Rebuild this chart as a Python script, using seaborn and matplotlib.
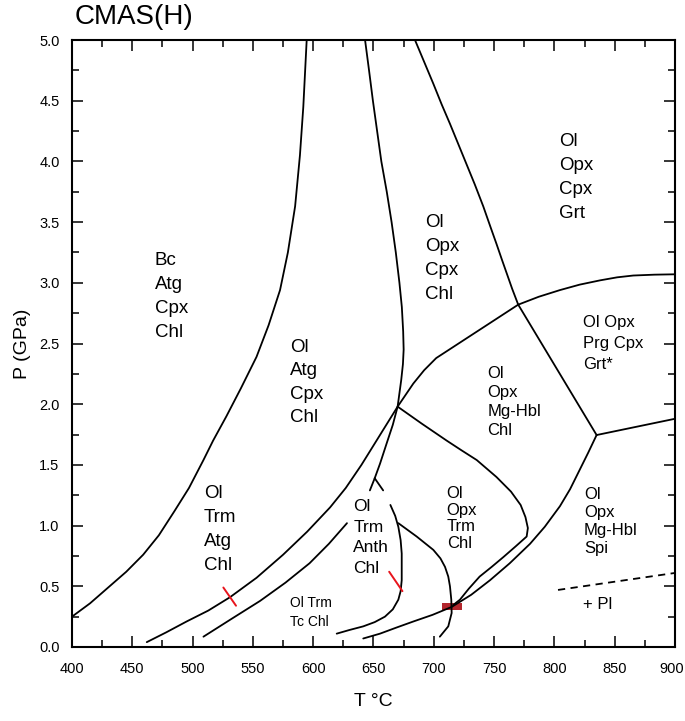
import matplotlib
matplotlib.use("Agg")
import matplotlib.pyplot as plt
import seaborn as sns
import pandas as pd
from matplotlib.ticker import MultipleLocator
from matplotlib.transforms import ScaledTranslation

# ---------------- data (T in deg C, P in GPa) ----------------
A_T = [400, 415, 430, 445, 459, 472, 485, 497, 509, 517, 528, 540, 553, 563,
       572.5, 579, 585, 589, 591.8, 594.6]
A_P = [0.25, 0.36, 0.49, 0.62, 0.76, 0.92, 1.12, 1.31, 1.54, 1.70, 1.90, 2.13,
       2.39, 2.65, 2.94, 3.25, 3.63, 4.05, 4.45, 5.0]

B_T = [462, 478, 495, 513, 531, 553, 575, 595, 614, 627, 640, 655, 670, 683,
       692, 702, 719, 736, 753, 770]
B_P = [0.04, 0.12, 0.21, 0.30, 0.41, 0.57, 0.76, 0.95, 1.15, 1.31, 1.50, 1.74,
       1.98, 2.17, 2.28, 2.38, 2.49, 2.60, 2.71, 2.82]

E_T = [509, 532, 556, 577, 597, 613, 628]
E_P = [0.085, 0.23, 0.38, 0.53, 0.69, 0.85, 1.02]

F_T = [664, 668, 670.6, 672.5, 673.4, 673.4, 672.5, 670.6, 666, 659.5, 651,
       641.5, 630, 619.5]
F_P = [1.17, 1.08, 0.99, 0.88, 0.77, 0.55, 0.46, 0.39, 0.31, 0.25, 0.205,
       0.17, 0.14, 0.11]

C_T = [643, 646.3, 649.5, 653, 656.5, 661, 665, 668.5, 671.5, 673.5, 674.6,
       675, 674.4, 673, 670, 666, 661, 655.4, 651]
C_P = [5.0, 4.75, 4.5, 4.25, 4.0, 3.75, 3.5, 3.25, 3.0, 2.8, 2.6, 2.45, 2.33,
       2.2, 1.98, 1.83, 1.68, 1.51, 1.39]

FORK1_T = [651, 647]
FORK1_P = [1.39, 1.29]
FORK2_T = [651, 658]
FORK2_P = [1.39, 1.29]

D_T = [684.4, 692, 699.6, 706.5, 713.4, 720, 727, 734, 741, 747, 752, 756.5,
       760.4, 765, 770]
D_P = [5.0, 4.82, 4.64, 4.47, 4.31, 4.15, 3.98, 3.81, 3.63, 3.46, 3.32, 3.19,
       3.08, 2.95, 2.82]

R1_T = [770, 787, 804.6, 821, 837.8, 852, 865.4, 883, 900]
R1_P = [2.82, 2.885, 2.94, 2.985, 3.02, 3.045, 3.06, 3.067, 3.07]

R2_T = [770, 835]
R2_P = [2.82, 1.746]

R3_T = [835, 900]
R3_P = [1.746, 1.88]

H_T = [641.5, 655.4, 669, 683, 699, 714.8, 731, 746.6, 763, 779.8, 792, 804.6,
       813, 821, 828, 835]
H_P = [0.07, 0.11, 0.16, 0.21, 0.265, 0.33, 0.43, 0.55, 0.69, 0.85, 0.99, 1.16,
       1.30, 1.46, 1.60, 1.746]

I_T = [670, 690, 710.7, 723, 735.6, 752, 764, 772, 776, 778, 777, 768, 757.6,
       748, 738, 729, 721.7, 716]
I_P = [1.98, 1.84, 1.70, 1.62, 1.54, 1.40, 1.28, 1.17, 1.07, 0.98, 0.91, 0.83,
       0.74, 0.66, 0.58, 0.48, 0.39, 0.345]

G_T = [670.6, 685.8, 699.6, 705.5, 709.3, 712, 713.4, 714.5, 714.8, 712, 705]
G_P = [1.02, 0.91, 0.80, 0.73, 0.66, 0.58, 0.50, 0.39, 0.28, 0.17, 0.085]

PL_T = [803, 900]
PL_P = [0.47, 0.61]

TICK1_T = [525.5, 536]
TICK1_P = [0.49, 0.34]
TICK2_T = [663, 674]
TICK2_P = [0.62, 0.46]

RECT_T = [706.5, 723]
RECT_P = [0.305, 0.365]

# labels: (lines, T, P of first line, fontsize, line spacing px)
LABELS = [
    (["Bc", "Atg", "Cpx", "Chl"], 468.8, 3.18, 13.5, 24),
    (["Ol", "Atg", "Cpx", "Chl"], 580.8, 2.47, 13.5, 23.5),
    (["Ol", "Trm", "Atg", "Chl"], 509.5, 1.266, 13.5, 24),
    (["Ol", "Opx", "Cpx", "Chl"], 692.7, 3.495, 13.5, 24),
    (["Ol", "Opx", "Cpx", "Grt"], 804.0, 4.16, 13.5, 24),
    (["Ol Opx", "Prg Cpx", "Grt*"], 823.5, 2.67, 12, 20.7),
    (["Ol", "Opx", "Mg-Hbl", "Chl"], 744.4, 2.25, 12, 18.9),
    (["Ol", "Trm", "Anth", "Chl"], 633.3, 1.156, 12.5, 20.6),
    (["Ol", "Opx", "Trm", "Chl"], 710.7, 1.266, 12, 16.8),
    (["Ol", "Opx", "Mg-Hbl", "Spi"], 824.5, 1.26, 12, 18),
    (["Ol Trm", "Tc Chl"], 580.8, 0.36, 10, 18.3),
    (["+ Pl"], 823.7, 0.354, 12, 18),
]

X_TICKS = [400, 450, 500, 550, 600, 650, 700, 750, 800, 850, 900]
Y_TICKS = [0.0, 0.5, 1.0, 1.5, 2.0, 2.5, 3.0, 3.5, 4.0, 4.5, 5.0]

# ---------------- plotting ----------------
sns.set_theme(style="ticks")
plt.rcParams["font.family"] = ["Liberation Sans", "DejaVu Sans"]

fig = plt.figure(figsize=(6.85, 7.21), dpi=100)
ax = fig.add_axes([72 / 685, 1 - 647 / 721, 603 / 685, 607 / 721])

curves = {
    "A": (A_T, A_P), "B": (B_T, B_P), "E": (E_T, E_P), "F": (F_T, F_P),
    "C": (C_T, C_P), "fork1": (FORK1_T, FORK1_P), "fork2": (FORK2_T, FORK2_P),
    "D": (D_T, D_P), "R1": (R1_T, R1_P), "R2": (R2_T, R2_P), "R3": (R3_T, R3_P),
    "H": (H_T, H_P), "I": (I_T, I_P), "G": (G_T, G_P),
}
rows = []
for name, (ts, ps) in curves.items():
    for k, (t, p) in enumerate(zip(ts, ps)):
        rows.append({"curve": name, "T": t, "P": p, "k": k})
df = pd.DataFrame(rows)

ax.fill_between(RECT_T, RECT_P[0], RECT_P[1], color="#b3262d", lw=0, zorder=2)

sns.lineplot(data=df, x="T", y="P", units="curve", estimator=None, sort=False,
             color="black", lw=1.3, ax=ax, zorder=3)
sns.lineplot(x=PL_T, y=PL_P, sort=False, estimator=None, color="black",
             lw=1.3, ax=ax, zorder=3, linestyle=(0, (4, 3)))
for tt, pp in [(TICK1_T, TICK1_P), (TICK2_T, TICK2_P)]:
    sns.lineplot(x=tt, y=pp, sort=False, estimator=None, color="#e8141c",
                 lw=1.4, ax=ax, zorder=4)

for lines, t, p, fs, sp in LABELS:
    for i, line in enumerate(lines):
        ax.annotate(line, (t, p), xytext=(0, -i * sp * 72 / 100),
                    textcoords="offset points", ha="left", va="center",
                    fontsize=fs, color="black")

ax.set_xlim(400, 900)
ax.set_ylim(0, 5.0)
ax.set_xticks(X_TICKS)
ax.set_yticks(Y_TICKS)
ax.set_yticklabels([f"{v:.1f}" for v in Y_TICKS])
ax.xaxis.set_minor_locator(MultipleLocator(25))
ax.yaxis.set_minor_locator(MultipleLocator(0.25))
ax.tick_params(which="both", direction="in", top=True, right=True,
               width=1.1, color="black", labelsize=10.5, labelcolor="black")
ax.tick_params(axis="x", which="major", length=8, pad=11)
ax.tick_params(axis="y", which="major", length=8, pad=9)
ax.tick_params(which="minor", length=5)
for s in ax.spines.values():
    s.set_linewidth(1.5)
    s.set_color("black")
ax.set_xlabel("T °C", fontsize=14, labelpad=12, color="black")
ax.set_ylabel("P (GPa)", fontsize=14, labelpad=6, color="black")
ax.grid(False)
ax.set_facecolor("white")
fig.patch.set_facecolor("white")

# keep the last x tick label inside the canvas
last = ax.get_xticklabels()[-1]
last.set_transform(last.get_transform() + ScaledTranslation(-3 / 100, 0, fig.dpi_scale_trans))

fig.text(75 / 685, 1 - 17 / 721, "CMAS(H)", fontsize=20, ha="left",
         va="center", color="black")

fig.savefig("out.png", dpi=100)
